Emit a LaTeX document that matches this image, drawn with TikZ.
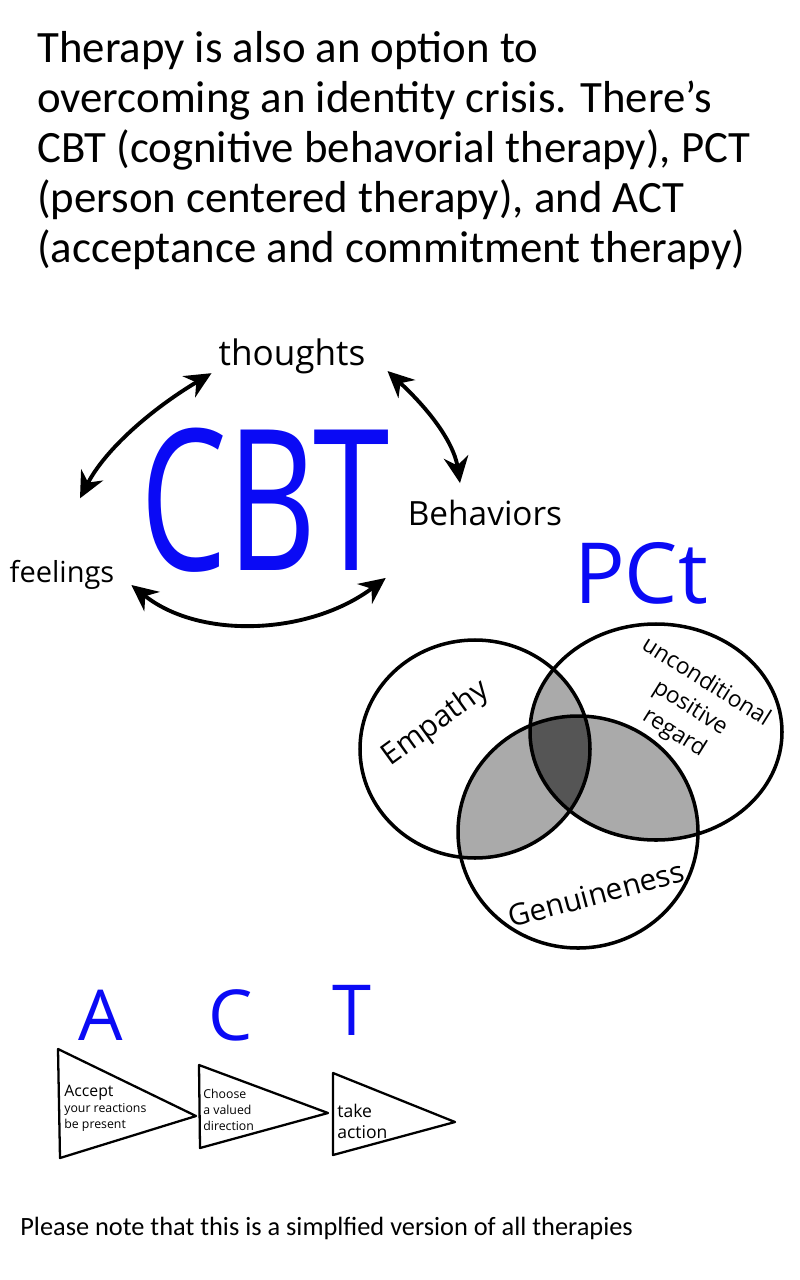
\documentclass[tikz,border=0pt]{standalone}
\usepackage{fontspec}
\setmainfont{Carlito}
\newfontfamily\handfont{Open Sans}
\usetikzlibrary{arrows.meta}

\definecolor{penblue}{RGB}{10,10,245}
\definecolor{pairgray}{RGB}{170,170,170}
\definecolor{tripgray}{RGB}{85,85,85}

\tikzset{
  headline/.style={anchor=base west, inner sep=0pt, font=\fontsize{25.5}{28}\selectfont},
  hand/.style={font=\handfont, inner sep=1pt},
  bluehand/.style={font=\handfont, text=penblue, inner sep=0pt},
  biarrow/.style={line width=2.2pt, {Stealth[length=15pt,width=14pt]}-{Stealth[length=15pt,width=14pt]}},
  ring/.style={line width=2pt},
  pennant/.style={line width=1.3pt, line join=round},
  pennanttext/.style={font=\handfont\fontsize{7}{9}\selectfont, align=left, anchor=west, inner sep=0pt},
}

\begin{document}
\begin{tikzpicture}[x=0.02cm, y=-0.02cm]
\useasboundingbox (0,0) rectangle (800,1280);
\fill[white] (0,0) rectangle (800,1280);

% header
\node[headline] (line1) at (37,63) {Therapy is also an option to};
\node[headline] (line2) at (37,113) {overcoming an identity crisis. There’s};
\node[headline] (line3) at (37,163) {CBT (cognitive behavorial therapy), PCT};
\node[headline] (line4) at (37,213) {(person centered therapy), and ACT};
\node[headline] (line5) at (37,263) {(acceptance and commitment therapy)};

% CBT cycle
\node[bluehand, font=\handfont\fontsize{112}{112}\selectfont] (cbt) at (265,500) {\scalebox{0.7}[1]{CBT}};
\node[hand, font=\handfont\fontsize{20}{20}\selectfont] (thoughts) at (292,356) {thoughts};
\node[hand, font=\handfont\fontsize{19}{19}\selectfont] (behaviors) at (485,513) {Behaviors};
\node[hand, font=\handfont\fontsize{16.5}{16.5}\selectfont] (feelings) at (62,575) {feelings};

\draw[biarrow] ([shift={(-0.1cm,0.05cm)}]thoughts.south west) .. controls (150,410) and (105,450) .. ([shift={(0.36cm,1.2cm)}]feelings.north);
\draw[biarrow] ([shift={(0.4cm,-0.3cm)}]thoughts.east) .. controls (440,420) and (455,450) .. ([shift={(-0.5cm,0.3cm)}]behaviors.north);
\draw[biarrow] ([shift={(0.3cm,-0.2cm)}]feelings.east) .. controls (200,640) and (310,635) .. ([shift={(-0.4cm,-1cm)}]behaviors.south west);

% PCT venn
\node[bluehand, font=\handfont\fontsize{48}{48}\selectfont] (pct) at (641,573) {PCt};
\coordinate (empc) at (475,749);
\coordinate (uprc) at (656,732);
\coordinate (genc) at (578,832);
\begin{scope}
  \clip (empc) ellipse (115 and 109);
  \fill[pairgray] (uprc) ellipse (126 and 108);
  \fill[pairgray] (genc) ellipse (120 and 116);
\end{scope}
\begin{scope}
  \clip (uprc) ellipse (126 and 108);
  \fill[pairgray] (genc) ellipse (120 and 116);
\end{scope}
\begin{scope}
  \clip (empc) ellipse (115 and 109);
  \clip (uprc) ellipse (126 and 108);
  \fill[tripgray] (genc) ellipse (120 and 116);
\end{scope}
\draw[ring] (empc) ellipse (115 and 109);
\draw[ring] (uprc) ellipse (126 and 108);
\draw[ring] (genc) ellipse (120 and 116);
\node[hand, rotate=36, font=\handfont\fontsize{17}{17}\selectfont] (empathy) at (436,724) {Empathy};
\node[hand, rotate=-32, align=center, font=\handfont\fontsize{13}{17}\selectfont] (upr) at (690,708) {unconditional\\positive\\regard};
\node[hand, rotate=15, font=\handfont\fontsize{17}{17}\selectfont] (genuine) at (596,894) {Genuineness};

% ACT pennants
\node[bluehand, font=\handfont\fontsize{40}{40}\selectfont] (acta) at (101,1015) {A};
\node[bluehand, font=\handfont\fontsize{40}{40}\selectfont] (actc) at (231,1015) {C};
\node[bluehand, font=\handfont\fontsize{40}{40}\selectfont] (actt) at (352,1010) {T};
\draw[pennant] (58,1049) -- (60,1158) -- (196,1116) -- cycle;
\draw[pennant] (199,1065) -- (200,1148) -- (328,1113) -- cycle;
\draw[pennant] (333,1073) -- (333,1155) -- (455,1122) -- cycle;
\node[pennanttext] (accept) at (64,1108) {{\fontsize{9}{9}\selectfont Accept}\\your reactions\\be present};
\node[pennanttext] (choose) at (203,1110) {Choose\\a valued\\direction};
\node[pennanttext, font=\handfont\fontsize{10}{12}\selectfont] (takeact) at (337,1121) {take\\action};

% footer
\node[anchor=base west, inner sep=0pt, font=\fontsize{15}{17}\selectfont] (note) at (20,1235) {Please note that this is a simplfied version of all therapies};
\end{tikzpicture}
\end{document}
